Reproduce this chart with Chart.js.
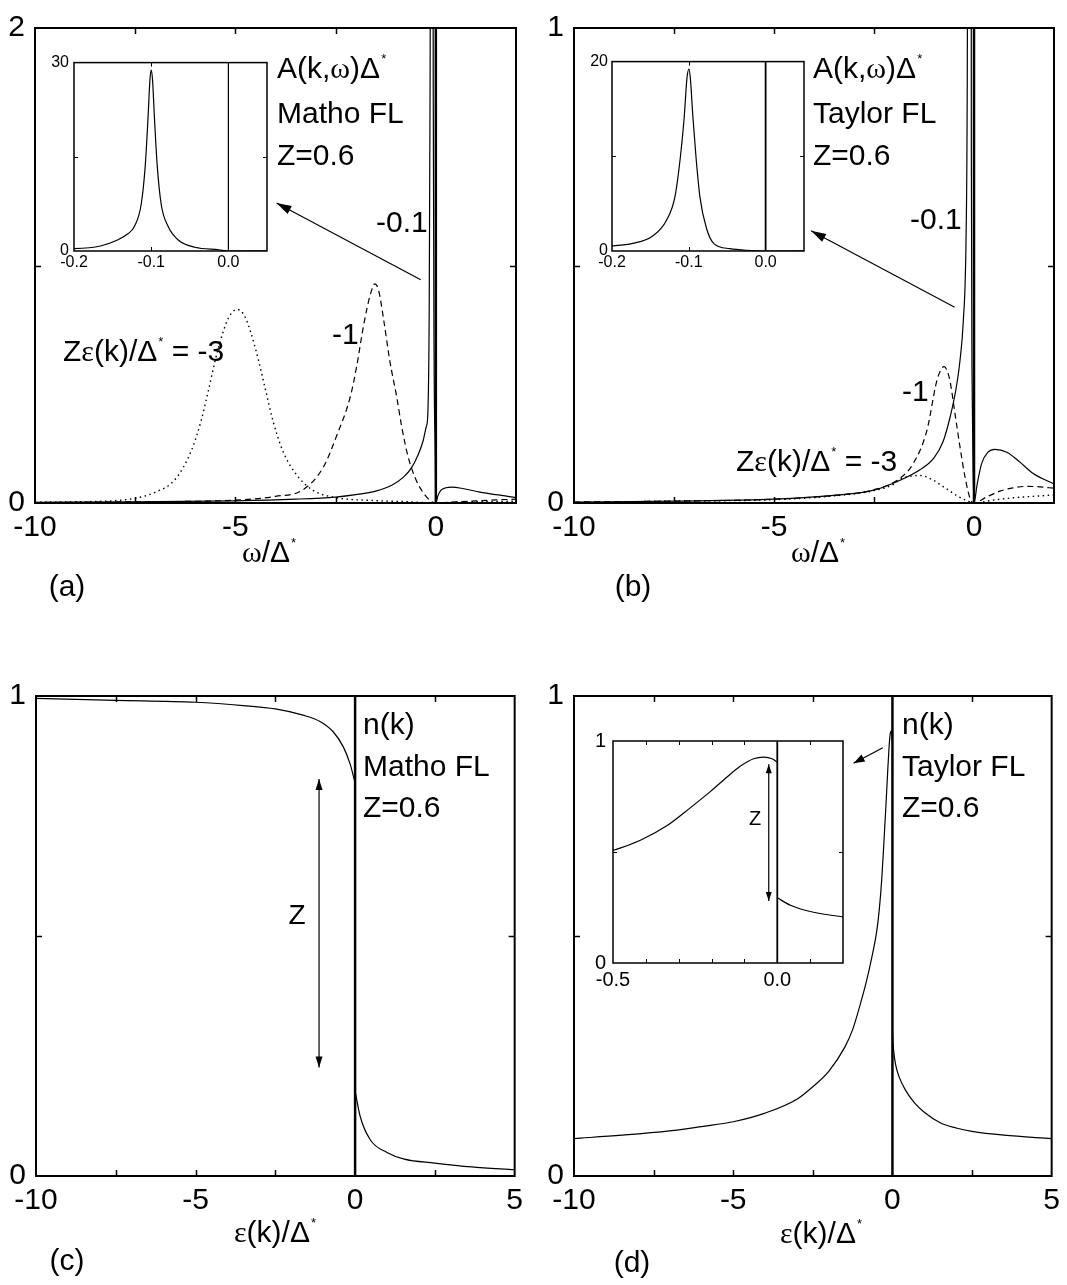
<!DOCTYPE html>
<html>
<head>
<meta charset="utf-8">
<title>A(k,w) and n(k) for Matho / Taylor FL</title>
<script src="https://cdn.jsdelivr.net/npm/chart.js@4.4.1/dist/chart.umd.min.js"></script>
<style>
  html, body { margin: 0; padding: 0; background: #fff; }
  body { position: relative; width: 1067px; height: 1285px; overflow: hidden;
         font-family: "Liberation Sans", Arial, Helvetica, sans-serif; color: #000; }
  canvas { position: absolute; }
  .t { position: absolute; font-size: 30px; line-height: 1; white-space: nowrap; }
  .c { transform: translateX(-50%); }
  .g { font-family: "Liberation Serif", "DejaVu Serif", serif; }
  .s { font-size: 13px; position: relative; top: -15px; margin-left: 1px; }
</style>
</head>
<body>
<canvas id="chartA" width="530" height="620" style="left:0;top:0"></canvas>
<canvas id="insetA" width="240" height="240" style="left:40px;top:48px"></canvas>
<canvas id="chartB" width="532" height="620" style="left:535px;top:0"></canvas>
<canvas id="insetB" width="240" height="240" style="left:575px;top:48px"></canvas>
<canvas id="chartC" width="530" height="625" style="left:0;top:660px"></canvas>
<canvas id="chartD" width="532" height="625" style="left:535px;top:660px"></canvas>
<canvas id="insetD" width="280" height="280" style="left:575px;top:722px"></canvas>

<!-- (a) -->
<div class="t" style="left:277px;top:53px">A(k,<span class="g">ω</span>)Δ<span class="s">*</span></div>
<div class="t" style="left:277px;top:98px">Matho FL</div>
<div class="t" style="left:277px;top:140px">Z=0.6</div>
<div class="t" style="left:376px;top:207px">-0.1</div>
<div class="t" style="left:332px;top:319px">-1</div>
<div class="t" style="left:63px;top:336px">Z<span class="g">ε</span>(k)/Δ<span class="s">*</span> = -3</div>
<div class="t c" style="left:269px;top:537px"><span class="g">ω</span>/Δ<span class="s">*</span></div>
<div class="t c" style="left:67px;top:571px">(a)</div>

<!-- (b) -->
<div class="t" style="left:813px;top:53px">A(k,<span class="g">ω</span>)Δ<span class="s">*</span></div>
<div class="t" style="left:813px;top:98px">Taylor FL</div>
<div class="t" style="left:813px;top:140px">Z=0.6</div>
<div class="t" style="left:910px;top:204px">-0.1</div>
<div class="t" style="left:902px;top:376px">-1</div>
<div class="t" style="left:736px;top:446px">Z<span class="g">ε</span>(k)/Δ<span class="s">*</span> = -3</div>
<div class="t c" style="left:818px;top:537px"><span class="g">ω</span>/Δ<span class="s">*</span></div>
<div class="t c" style="left:633px;top:571px">(b)</div>

<!-- (c) -->
<div class="t" style="left:363px;top:709px">n(k)</div>
<div class="t" style="left:363px;top:751px">Matho FL</div>
<div class="t" style="left:363px;top:792px">Z=0.6</div>
<div class="t c" style="left:297px;top:901px;font-size:28px">Z</div>
<div class="t c" style="left:275px;top:1217px"><span class="g">ε</span>(k)/Δ<span class="s">*</span></div>
<div class="t c" style="left:67px;top:1245px">(c)</div>

<!-- (d) -->
<div class="t" style="left:902px;top:709px">n(k)</div>
<div class="t" style="left:902px;top:751px">Taylor FL</div>
<div class="t" style="left:902px;top:792px">Z=0.6</div>
<div class="t c" style="left:755px;top:808px;font-size:20px">Z</div>
<div class="t c" style="left:821px;top:1218px"><span class="g">ε</span>(k)/Δ<span class="s">*</span></div>
<div class="t c" style="left:632px;top:1247px">(d)</div>

<script>
// (a) Matho FL spectral function, Z eps/Delta* = -3, -1, -0.1
const omegaA_m3 = [-10, -9, -8, -7.5, -7, -6.5, -6.1, -5.85, -5.68, -5.43, -5.17, -4.95, -4.75, -4.5, -4.24, -4.07, -3.82, -3.48, -3.06, -2.5, -1.5, -0.8, -0.3, 0, 0.5, 1, 1.5, 2];
const specA_m3  = [0.003, 0.005, 0.01, 0.02, 0.045, 0.1, 0.22, 0.35, 0.47, 0.65, 0.78, 0.815, 0.78, 0.65, 0.47, 0.35, 0.22, 0.12, 0.053, 0.023, 0.01, 0.006, 0.002, 0, 0.003, 0.005, 0.006, 0.008];
const omegaA_m1 = [-10, -7.5, -5, -4, -3.32, -2.81, -2.47, -2.13, -1.97, -1.8, -1.63, -1.52, -1.42, -1.3, -1.15, -0.98, -0.85, -0.7, -0.5, -0.3, -0.1, 0, 0.5, 1, 1.5, 2];
const specA_m1  = [0.002, 0.005, 0.012, 0.028, 0.055, 0.15, 0.285, 0.45, 0.58, 0.75, 0.88, 0.923, 0.89, 0.77, 0.6, 0.45, 0.32, 0.2, 0.1, 0.04, 0.005, 0, 0.005, 0.009, 0.013, 0.016];
const omegaA_m01 = [-10, -7.5, -5, -3.5, -2.5, -2, -1.5, -1.1, -0.8, -0.6, -0.45, -0.32, -0.24, -0.2, -0.1657, -0.1437, -0.1306, -0.1218, -0.113, -0.1077, -0.1042, -0.1016, -0.1, -0.0983, -0.0957, -0.0922, -0.087, -0.078, -0.065, -0.043, -0.0125, 0, 0.05, 0.13, 0.25, 0.4, 0.7, 1.1, 1.5, 2];
const specA_m01  = [0.003, 0.005, 0.009, 0.016, 0.025, 0.035, 0.05, 0.075, 0.11, 0.15, 0.2, 0.26, 0.32, 0.375, 0.8, 1.75, 2.7, 3.9, 7.4, 13.6, 21, 27.3, 28.8, 27.3, 21, 13.6, 7.4, 3.9, 1.75, 0.6, 0.2, 0, 0.03, 0.054, 0.064, 0.067, 0.06, 0.046, 0.035, 0.023];

// (b) Taylor FL spectral function
const omegaB_m3 = [-10, -7.5, -5, -3.5, -2.5, -2, -1.85, -1.6, -1.35, -1.0, -0.8, -0.6, -0.4, -0.18, 0, 0.48, 0.98, 1.48, 2];
const specB_m3  = [0.001, 0.004, 0.007, 0.015, 0.026, 0.04, 0.05, 0.056, 0.058, 0.047, 0.036, 0.025, 0.014, 0.005, 0, 0.006, 0.011, 0.014, 0.017];
const omegaB_m1 = [-10, -7.5, -5, -3.5, -2.5, -1.85, -1.52, -1.18, -0.93, -0.83, -0.75, -0.68, -0.6, -0.475, -0.35, -0.225, -0.1, 0, 0.32, 0.65, 0.98, 1.32, 1.65, 2];
const specB_m1  = [0.002, 0.004, 0.008, 0.016, 0.028, 0.052, 0.083, 0.152, 0.257, 0.28, 0.287, 0.28, 0.257, 0.188, 0.118, 0.055, 0.01, 0, 0.013, 0.025, 0.032, 0.035, 0.034, 0.031];
const omegaB_m01 = [-10, -7.5, -5, -3.5, -2.5, -1.85, -1.35, -1.0, -0.77, -0.6, -0.45, -0.35, -0.27, -0.2, -0.173, -0.147, -0.129, -0.118, -0.111, -0.106, -0.1024, -0.0998, -0.098, -0.0946, -0.0906, -0.0856, -0.077, -0.067, -0.0467, -0.025, 0, 0.08, 0.19, 0.35, 0.52, 0.82, 1.15, 1.48, 2];
const specB_m01  = [0.002, 0.004, 0.008, 0.016, 0.027, 0.048, 0.07, 0.095, 0.13, 0.18, 0.24, 0.3, 0.38, 0.55, 0.8, 1.58, 3.25, 5.75, 9.9, 14.1, 18.25, 19.2, 18.25, 14.1, 9.9, 5.75, 2.4, 0.75, 0.25, 0.08, 0, 0.04, 0.083, 0.107, 0.113, 0.107, 0.086, 0.062, 0.04];

// (c) n(k) Matho FL, branches either side of the Fermi surface
const epsC_left  = [-10, -7.5, -5, -3.5, -2.5, -1.63, -1.1, -0.68, -0.37, -0.155, -0.05, 0];
const nC_left    = [0.995, 0.991, 0.987, 0.98, 0.973, 0.96, 0.947, 0.925, 0.894, 0.858, 0.832, 0.819];
const epsC_right = [0, 0.16, 0.48, 1.0, 1.54, 2.49, 3.65, 5];
const nC_right   = [0.177, 0.124, 0.075, 0.049, 0.035, 0.027, 0.019, 0.013];

// (d) n(k) Taylor FL
const epsD_left  = [-10, -8.5, -7, -6, -5, -4, -3, -2.5, -2, -1.5, -1.25, -1.0, -0.8, -0.65, -0.5, -0.415, -0.334, -0.264, -0.203, -0.152, -0.112, -0.072, -0.041, -0.016, 0];
const nD_left    = [0.078, 0.085, 0.094, 0.103, 0.113, 0.131, 0.16, 0.186, 0.218, 0.268, 0.305, 0.36, 0.41, 0.455, 0.507, 0.554, 0.62, 0.70, 0.773, 0.839, 0.887, 0.92, 0.927, 0.92, 0.905];
const epsD_right = [0, 0.04, 0.1, 0.2, 0.4, 0.7, 1.0, 1.5, 2, 2.5, 3.5, 5];
const nD_right   = [0.294, 0.26, 0.232, 0.208, 0.18, 0.152, 0.133, 0.111, 0.1, 0.093, 0.085, 0.078];

// vertical marker at zero
const zeroX = [0, 0];

// tick labels and tick marks
const xLabelsW = [-10, -5, 0];
const xLabelsE = [-10, -5, 0, 5];
const xMarksW = [-7.5, -5, -2.5];
const xMarksE = [-7.5, -5, -2.5, 2.5];
const xLabelsIn = [-0.2, -0.1, 0];
const xLabelsInD = [-0.5, 0];
const xMarksInD = [-0.4, -0.3, -0.2, -0.1, 0.1];

const FONT = '"Liberation Sans", Arial, sans-serif';

const lineSet = (xs, ys, style) => Object.assign({
    data: xs.map((x, i) => ({ x: x, y: ys[i] })),
    showLine: true,
    pointRadius: 0,
    borderColor: '#000',
    borderWidth: 1.2,
    cubicInterpolationMode: 'monotone',
    fill: false
}, style);

const DASH = { borderDash: [6, 4] };
const DOT = { borderDash: [1.5, 3.5], borderWidth: 1.4 };
const zeroStyle = (w) => ({ borderWidth: w, cubicInterpolationMode: 'default', tension: 0 });

function arrowHead(ctx, fx, fy, tx, ty, len, half) {
    const ang = Math.atan2(ty - fy, tx - fx);
    const bx = tx - len * Math.cos(ang), by = ty - len * Math.sin(ang);
    ctx.beginPath();
    ctx.moveTo(tx, ty);
    ctx.lineTo(bx + half * Math.sin(ang), by - half * Math.cos(ang));
    ctx.lineTo(bx - half * Math.sin(ang), by + half * Math.cos(ang));
    ctx.closePath();
    ctx.fill();
}

// frame, inward tick marks and arrows
const boxPlugin = {
    id: 'box',
    afterDatasetsDraw(chart, args, o) {
        const { ctx, chartArea: ca, scales: { x, y } } = chart;
        ctx.save();
        ctx.strokeStyle = '#000';
        ctx.fillStyle = '#000';
        ctx.lineWidth = o.frame;
        ctx.strokeRect(ca.left, ca.top, ca.right - ca.left, ca.bottom - ca.top);
        ctx.lineWidth = o.tickW;
        ctx.beginPath();
        o.xMarks.forEach(v => {
            const px = Math.round(x.getPixelForValue(v)) + 0.5;
            ctx.moveTo(px, ca.bottom); ctx.lineTo(px, ca.bottom - o.tick);
            ctx.moveTo(px, ca.top); ctx.lineTo(px, ca.top + o.tick);
        });
        o.yMarks.forEach(v => {
            const py = Math.round(y.getPixelForValue(v)) + 0.5;
            ctx.moveTo(ca.left, py); ctx.lineTo(ca.left + o.tick, py);
            ctx.moveTo(ca.right, py); ctx.lineTo(ca.right - o.tick, py);
        });
        ctx.stroke();
        (o.arrows || []).forEach(ar => {
            const x0 = x.getPixelForValue(ar.from[0]), y0 = y.getPixelForValue(ar.from[1]);
            const x1 = x.getPixelForValue(ar.to[0]), y1 = y.getPixelForValue(ar.to[1]);
            ctx.lineWidth = 1.2;
            ctx.beginPath(); ctx.moveTo(x0, y0); ctx.lineTo(x1, y1); ctx.stroke();
            arrowHead(ctx, x0, y0, x1, y1, ar.len, ar.half);
            if (ar.both) arrowHead(ctx, x1, y1, x0, y0, ar.len, ar.half);
        });
        ctx.restore();
    }
};

function makeChart(id, c) {
    const cv = document.getElementById(id);
    const a = c.area;
    return new Chart(cv, {
        type: 'scatter',
        data: { datasets: c.sets },
        options: {
            responsive: false,
            animation: false,
            devicePixelRatio: 1,
            events: [],
            layout: { padding: { left: 0, top: a.t, right: cv.width - a.r, bottom: cv.height - a.b - c.xh } },
            plugins: { legend: { display: false }, tooltip: { enabled: false }, box: c.box },
            scales: {
                x: {
                    type: 'linear', min: c.x[0], max: c.x[1],
                    grid: { display: false, drawTicks: false },
                    border: { display: false },
                    afterFit: s => { s.height = c.xh; },
                    afterBuildTicks: s => { s.ticks = c.xLab.map(v => ({ value: v })); },
                    ticks: {
                        autoSkip: false, maxRotation: 0, minRotation: 0, padding: c.xPad,
                        color: '#000', font: { family: FONT, size: c.fs },
                        callback: c.fmt
                    }
                },
                y: {
                    type: 'linear', min: c.y[0], max: c.y[1],
                    grid: { display: false, drawTicks: false },
                    border: { display: false },
                    afterFit: s => { s.width = a.l; },
                    afterBuildTicks: s => { s.ticks = c.y.map(v => ({ value: v })); },
                    ticks: {
                        autoSkip: false, padding: c.yPad,
                        color: '#000', font: { family: FONT, size: c.fs },
                        callback: v => String(v)
                    }
                }
            }
        },
        plugins: [boxPlugin]
    });
}

const intFmt = v => String(v);
const decFmt = v => v.toFixed(1);

// (a)
makeChart('chartA', {
    area: { l: 35, t: 24, r: 516, b: 503 }, xh: 50, x: [-10, 2], y: [0, 2],
    xLab: xLabelsW, fmt: intFmt, fs: 30, xPad: 7, yPad: 10,
    sets: [
        lineSet(omegaA_m3, specA_m3, DOT),
        lineSet(omegaA_m1, specA_m1, DASH),
        lineSet(omegaA_m01, specA_m01, {}),
        lineSet(zeroX, [0, 2], zeroStyle(2.5))
    ],
    box: { frame: 2, tick: 6, tickW: 1.5, xMarks: xMarksW, yMarks: [1],
        arrows: [{ from: [-0.377, 0.94], to: [-3.975, 1.263], len: 15, half: 4.5 }] }
});
makeChart('insetA', {
    area: { l: 34, t: 13, r: 227, b: 203 }, xh: 24, x: [-0.2, 0.05], y: [0, 30],
    xLab: xLabelsIn, fmt: decFmt, fs: 16, xPad: 2, yPad: 5,
    sets: [
        lineSet(omegaA_m01, specA_m01, {}),
        lineSet(zeroX, [0, 30], zeroStyle(1.2))
    ],
    box: { frame: 1.5, tick: 4, tickW: 1, xMarks: [-0.1], yMarks: [15] }
});

// (b)
makeChart('chartB', {
    area: { l: 39, t: 24, r: 519, b: 503 }, xh: 50, x: [-10, 2], y: [0, 1],
    xLab: xLabelsW, fmt: intFmt, fs: 30, xPad: 7, yPad: 10,
    sets: [
        lineSet(omegaB_m3, specB_m3, DOT),
        lineSet(omegaB_m1, specB_m1, DASH),
        lineSet(omegaB_m01, specB_m01, {}),
        lineSet(zeroX, [0, 1], zeroStyle(2.5))
    ],
    box: { frame: 2, tick: 6, tickW: 1.5, xMarks: xMarksW, yMarks: [0.5],
        arrows: [{ from: [-0.4825, 0.412], to: [-4.075, 0.573], len: 15, half: 4.5 }] }
});
makeChart('insetB', {
    area: { l: 37, t: 13, r: 229, b: 203 }, xh: 24, x: [-0.2, 0.05], y: [0, 20],
    xLab: xLabelsIn, fmt: decFmt, fs: 16, xPad: 2, yPad: 4,
    sets: [
        lineSet(omegaB_m01, specB_m01, {}),
        lineSet(zeroX, [0, 20], zeroStyle(1.8))
    ],
    box: { frame: 1.5, tick: 4, tickW: 1, xMarks: [-0.1], yMarks: [10] }
});

// (c)
makeChart('chartC', {
    area: { l: 36, t: 36, r: 516, b: 516 }, xh: 50, x: [-10, 5], y: [0, 1],
    xLab: xLabelsE, fmt: intFmt, fs: 30, xPad: 7, yPad: 10,
    sets: [
        lineSet(epsC_left, nC_left, {}),
        lineSet(epsC_right, nC_right, {}),
        lineSet(zeroX, [0, 1], zeroStyle(2.5))
    ],
    box: { frame: 2, tick: 6, tickW: 1.5, xMarks: xMarksE, yMarks: [0.5],
        arrows: [{ from: [-1.13, 0.827], to: [-1.13, 0.226], len: 11, half: 3.5, both: true }] }
});

// (d)
makeChart('chartD', {
    area: { l: 39, t: 36, r: 519, b: 516 }, xh: 50, x: [-10, 5], y: [0, 1],
    xLab: xLabelsE, fmt: intFmt, fs: 30, xPad: 7, yPad: 10,
    sets: [
        lineSet(epsD_left, nD_left, {}),
        lineSet(epsD_right, nD_right, {}),
        lineSet(zeroX, [0, 1], zeroStyle(2.5))
    ],
    box: { frame: 2, tick: 6, tickW: 1.5, xMarks: xMarksE, yMarks: [0.5],
        arrows: [{ from: [-0.303, 0.892], to: [-1.22, 0.86], len: 11, half: 4 }] }
});
makeChart('insetD', {
    area: { l: 38, t: 13, r: 268, b: 241 }, xh: 30, x: [-0.5, 0.2], y: [0, 1],
    xLab: xLabelsInD, fmt: decFmt, fs: 20, xPad: 5, yPad: 7,
    sets: [
        lineSet(epsD_left, nD_left, {}),
        lineSet(epsD_right, nD_right, {}),
        lineSet(zeroX, [0, 1], zeroStyle(1.8))
    ],
    box: { frame: 1.5, tick: 4, tickW: 1, xMarks: xMarksInD, yMarks: [0.5],
        arrows: [{ from: [-0.026, 0.895], to: [-0.026, 0.279], len: 9, half: 3, both: true }] }
});
</script>
</body>
</html>
